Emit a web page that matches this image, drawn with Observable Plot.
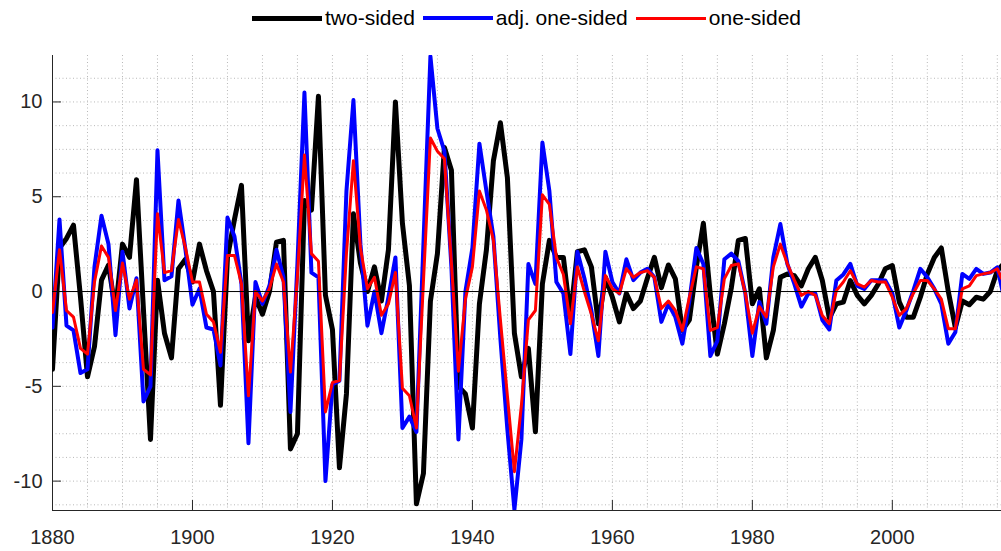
<!DOCTYPE html>
<html><head><meta charset="utf-8">
<script src="https://cdn.jsdelivr.net/npm/d3@7"></script>
<script src="https://cdn.jsdelivr.net/npm/@observablehq/plot@0.6"></script>
<style>
body{margin:0;background:#fff;font-family:"Liberation Sans",Arial,sans-serif;}
#legend{display:flex;justify-content:center;align-items:center;height:34px;width:949px;padding-left:52px;padding-top:1px;}
.item{display:flex;align-items:center;font-size:21px;color:#000;margin:0 4px;}
.sw{display:inline-block;width:70px;margin-right:3px;}
</style></head><body>
<div id="legend"></div>
<div id="chart"></div>
<script>
const startYear = 1880;
// 1880 ... 2016
const twoSided = [
-4.1, 2.3, 2.8, 3.5, -0.3, -4.5, -2.9, 0.6, 1.4, -1.0,
2.5, 1.8, 5.9, -1.0, -7.8, 0.6, -2.2, -3.5, 1.2, 1.7,
0.5, 2.5, 1.1, 0.0, -6.0, 1.8, 3.8, 5.6, -2.6, -0.3,
-1.2, 0.0, 2.6, 2.7, -8.3, -7.5, 4.8, 4.3, 10.3, -0.2,
-2.0, -9.3, -5.4, 4.1, 1.5, 0.0, 1.3, -0.5, 2.2, 10.0,
3.6, 0.3, -11.2, -9.6, -0.5, 2.0, 7.6, 6.4, -5.0, -5.4,
-7.2, -0.65, 2.2, 6.9, 8.9, 6.0, -2.2, -4.5, -3.0, -7.4,
0.4, 2.7, 1.8, 1.8, -1.35, 2.1, 2.2, 1.3, -1.7, 0.75,
-0.3, -1.6, -0.1, -0.9, -0.5, 0.7, 1.8, 0.2, 1.4, 0.67,
-2.05, -1.5, 1.3, 3.6, -0.2, -3.3, -1.7, 0.2, 2.7, 2.8,
-0.65, 0.14, -3.5, -2.05, 0.75, 0.93, 0.84, 0.3, 1.2, 1.8,
0.58, -1.4, -0.65, -0.56, 0.58, -0.2, -0.65, -0.2, 0.4, 1.2,
1.37, -0.56, -1.35, -1.35, -0.3, 0.93, 1.8, 2.3, 0.0, -1.9,
-0.5, -0.7, -0.3, -0.4, 0.0, 1.1, 1.5
];
const adjOneSided = [
-1.9, 3.8, -1.8, -2.05, -4.3, -4.1, 1.3, 4.0, 2.5, -2.3,
2.1, -0.9, 0.7, -5.8, -5.0, 7.45, 0.6, 0.8, 4.8, 2.2,
-0.7, 0.15, -1.9, -2.0, -3.9, 3.9, 2.9, 0.4, -8.0, 0.5,
-0.65, 0.3, 2.2, 0.75, -6.35, 1.5, 10.5, 1.0, 0.75, -10.0,
-4.9, -4.7, 5.3, 10.1, 2.5, -1.8, 0.0, -2.2, -0.3, 1.8,
-7.2, -6.6, -7.4, 2.5, 12.4, 8.6, 7.4, 1.3, -7.8, 0.0,
2.3, 7.8, 5.3, 2.9, -2.5, -7.3, -11.5, -7.8, 1.45, 0.4,
7.86, 5.3, 0.5, -0.1, -3.3, 2.1, 0.7, -1.0, -3.4, 2.1,
0.5, -0.1, 1.7, 0.6, 1.0, 1.2, 0.75, -1.6, -0.65, -1.35,
-2.75, -0.5, 2.3, 1.45, -3.4, -2.6, 1.7, 2.0, 1.6, -0.1,
-3.4, -0.55, -1.7, 1.8, 3.56, 1.46, 0.4, -0.8, -0.1, -0.1,
-1.5, -2.0, 0.58, 0.9, 1.46, 0.3, 0.14, 0.6, 0.6, 0.58,
-0.1, -1.9, -1.0, 0.05, 1.2, 0.75, 0.14, -0.65, -2.75, -2.15,
0.93, 0.67, 1.2, 0.93, 1.0, 1.28, -0.4
];
const oneSided = [
-1.1, 2.2, -1.0, -1.35, -3.0, -3.3, 0.5, 2.4, 1.8, -1.0,
1.5, -0.4, 0.6, -4.1, -4.4, 4.1, 1.0, 1.1, 3.8, 2.3,
0.5, 0.5, -1.2, -1.6, -3.2, 1.9, 1.9, 0.4, -5.5, 0.0,
-0.5, 0.15, 1.45, 0.5, -4.25, 0.8, 7.2, 2.0, 1.6, -6.35,
-4.8, -4.7, 2.0, 6.9, 2.3, 0.15, 0.75, -1.25, -0.65, 1.0,
-5.1, -5.5, -7.2, 0.5, 8.1, 7.4, 7.0, 1.5, -4.2, -0.4,
1.3, 5.3, 4.3, 2.7, -1.5, -5.5, -9.5, -6.0, -1.5, -1.0,
5.1, 4.6, 1.8, 0.9, -1.7, 1.3, 0.0, -1.2, -2.6, 0.85,
0.15, -0.1, 1.2, 0.75, 1.0, 1.1, 0.75, -0.9, -0.5, -1.0,
-2.05, -0.3, 1.3, 1.2, -2.05, -1.9, 0.67, 1.37, 1.46, -0.1,
-2.2, -0.8, -1.35, 1.3, 2.5, 1.46, 0.6, -0.2, 0.0, -0.2,
-1.26, -1.7, 0.05, 0.5, 1.1, 0.4, 0.23, 0.58, 0.5, 0.5,
-0.3, -1.26, -0.9, -0.1, 0.58, 0.58, 0.14, -0.4, -1.96, -1.96,
0.14, 0.3, 0.84, 0.93, 1.0, 1.2, 0.4
];
const seriesNames = ["two-sided", "adj. one-sided", "one-sided"];
const seriesColors = ["#000000", "#0000ff", "#ff0000"];
const seriesWidths = [5, 4, 3];
const xTicks = [1880, 1900, 1920, 1940, 1960, 1980, 2000];
const yTicks = [-10, -5, 0, 5, 10];
const xDomain = [1880, 2015.6];
const yDomain = [-11.55, 12.45];

const years = twoSided.map((_, i) => startYear + i);
const rows = arr => arr.map((v, i) => ({year: years[i], value: v}));
const xMinor = d3.range(1880, 2016, 5);
const yMinor = d3.range(-11.25, 12.45, 1.25);

// legend
const lg = document.getElementById("legend");
seriesNames.forEach((n, i) => {
  const it = document.createElement("div");
  it.className = "item";
  const sw = document.createElement("span");
  sw.className = "sw";
  sw.style.height = seriesWidths[i] + "px";
  sw.style.background = seriesColors[i];
  const t = document.createElement("span");
  t.textContent = n;
  it.appendChild(sw); it.appendChild(t);
  lg.appendChild(it);
});

const gridStyle = {stroke: "#b8b8b8", strokeOpacity: 1, strokeWidth: 1, strokeDasharray: "1,2.5"};
const series = [twoSided, adjOneSided, oneSided];

const chart = Plot.plot({
  width: 1001, height: 516,
  marginLeft: 52, marginRight: 0, marginTop: 20, marginBottom: 41,
  x: {domain: xDomain, label: null},
  y: {domain: yDomain, label: null},
  style: {fontFamily: '"Liberation Sans", Arial, sans-serif', fontSize: "20px", color: "#262626", background: "#fff", overflow: "visible"},
  marks: [
    Plot.gridX(xMinor, gridStyle),
    Plot.gridY(yMinor, gridStyle),
    Plot.ruleX([xDomain[0]], {stroke: "#262626", strokeWidth: 1}),
    Plot.ruleY([yDomain[0]], {stroke: "#262626", strokeWidth: 1}),
    Plot.axisX(xTicks, {tickSize: 0, tickPadding: 19, tickFormat: d => String(d), label: null, fill: "#262626"}),
    Plot.axisX(xTicks, {tickSize: -10, tickFormat: () => "", label: null, stroke: "#262626"}),
    Plot.axisY(yTicks, {tickSize: 0, tickPadding: 10, tickFormat: d => String(d), label: null, fill: "#262626"}),
    Plot.axisY(yTicks, {tickSize: -9, tickFormat: () => "", label: null, stroke: "#262626"}),
    ...series.map((s, i) => Plot.lineY(rows(s), {x: "year", y: "value", stroke: seriesColors[i], strokeWidth: seriesWidths[i], clip: true})),
    Plot.ruleY([0], {stroke: "#000", strokeWidth: 1})
  ]
});
document.getElementById("chart").appendChild(chart);
</script>
</body></html>
